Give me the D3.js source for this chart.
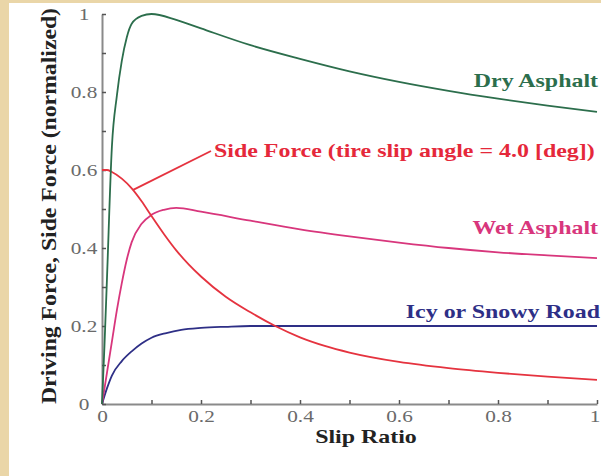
<!DOCTYPE html>
<html>
<head>
<meta charset="utf-8">
<script src="https://cdnjs.cloudflare.com/ajax/libs/d3/7.8.5/d3.min.js"></script>
<style>
    body { margin: 0; padding: 0; background: #ffffff; }
    svg { display: block; }
    text { font-family: "Liberation Serif", "Times New Roman", serif; }
</style>
</head>
<body>
<div id="chart"></div>
<script>
    // values
    var dry_slip   = [0, 0.005, 0.01, 0.02, 0.03, 0.04, 0.05, 0.06, 0.08, 0.1, 0.15, 0.2, 0.3, 0.4, 0.5, 0.6, 0.7, 0.8, 0.9, 1.0];
    var dry_force  = [0, 0.15, 0.32, 0.66, 0.79, 0.88, 0.94, 0.975, 0.995, 1.0, 0.985, 0.963, 0.92, 0.885, 0.853, 0.826, 0.803, 0.783, 0.765, 0.749];
    var wet_slip   = [0, 0.01, 0.02, 0.03, 0.04, 0.05, 0.06, 0.08, 0.1, 0.125, 0.15, 0.2, 0.3, 0.4, 0.5, 0.6, 0.7, 0.8, 0.9, 1.0];
    var wet_force  = [0, 0.08, 0.16, 0.24, 0.31, 0.37, 0.415, 0.462, 0.485, 0.498, 0.503, 0.493, 0.47, 0.448, 0.43, 0.414, 0.4, 0.389, 0.381, 0.374];
    var icy_slip   = [0, 0.01, 0.02, 0.04, 0.06, 0.08, 0.1, 0.13, 0.16, 0.2, 0.25, 0.3, 0.4, 0.5, 0.6, 0.7, 0.8, 0.9, 1.0];
    var icy_force  = [0, 0.04, 0.073, 0.11, 0.135, 0.155, 0.17, 0.182, 0.19, 0.195, 0.198, 0.2, 0.2, 0.2, 0.2, 0.2, 0.2, 0.2, 0.2];
    var side_slip  = [0, 0.01, 0.02, 0.04, 0.06, 0.08, 0.1, 0.125, 0.15, 0.175, 0.2, 0.25, 0.3, 0.35, 0.4, 0.45, 0.5, 0.6, 0.7, 0.8, 0.9, 1.0];
    var side_force = [0.6, 0.6, 0.595, 0.578, 0.553, 0.52, 0.482, 0.436, 0.394, 0.358, 0.327, 0.275, 0.235, 0.2, 0.171, 0.149, 0.132, 0.108, 0.092, 0.08, 0.07, 0.062];
    var x_ticks = [0, 0.1, 0.2, 0.3, 0.4, 0.5, 0.6, 0.7, 0.8, 0.9, 1];
    var y_ticks = [0, 0.1, 0.2, 0.3, 0.4, 0.5, 0.6, 0.7, 0.8, 0.9, 1];
    var labelled = [0, 0.2, 0.4, 0.6, 0.8, 1];
    var leader_point = [0.063, 0.549];

    var width = 601, height = 476;
    var stretch = 1.33;   // the original picture is stretched sideways

    var svg = d3.select("#chart").append("svg")
        .attr("width", width)
        .attr("height", height);

    // beige paper border on the left and top
    svg.append("rect").attr("x", 0).attr("y", 0).attr("width", width).attr("height", height).attr("fill", "#ead6a8");
    svg.append("rect").attr("x", 9).attr("y", 3).attr("width", width - 9).attr("height", height - 3).attr("fill", "#ffffff");

    var x = d3.scaleLinear().domain([0, 1]).range([102, 597]);
    var y = d3.scaleLinear().domain([0, 1]).range([404, 14]);

    function fmt(d){
        if(labelled.indexOf(d) < 0) return "";
        return d == 0 ? "0" : (d == 1 ? "1" : d3.format(".1f")(d));
    }

    var xAxis = svg.append("g")
        .attr("transform", "translate(0," + y(0) + ")")
        .call(d3.axisBottom(x).tickValues(x_ticks).tickSize(-4).tickSizeOuter(0).tickFormat(fmt));
    var yAxis = svg.append("g")
        .attr("transform", "translate(" + x(0) + ",0)")
        .call(d3.axisLeft(y).tickValues(y_ticks).tickSize(-4).tickSizeOuter(0).tickFormat(fmt));

    [xAxis, yAxis].forEach(function(a){
        a.select(".domain").attr("stroke", "#8a8a8a").attr("stroke-width", 2);
        a.selectAll(".tick line").attr("stroke", "#555").attr("stroke-width", 1.5);
        a.selectAll(".tick text")
            .attr("fill", "#6a6a6a")
            .attr("font-size", 16)
            .attr("transform", "scale(" + stretch + ",1)");
    });
    xAxis.selectAll(".tick text").attr("y", 7).attr("dy", "0.71em");
    // the last label sits right on the edge, keep it inside
    xAxis.selectAll(".tick text").filter(function(d){ return d == 1; }).attr("text-anchor", "end").attr("x", 3 / stretch);
    yAxis.selectAll(".tick text").attr("x", -18 / stretch).attr("text-anchor", "middle").attr("dy", "0.35em");

    var line = d3.line()
        .x(function(d){ return x(d[0]); })
        .y(function(d){ return y(d[1]); })
        .curve(d3.curveMonotoneX);

    function draw_curve(xs, ys, color){
        svg.append("path")
            .datum(d3.zip(xs, ys))
            .attr("d", line)
            .attr("fill", "none")
            .attr("stroke", color)
            .attr("stroke-width", 1.8);
    }

    draw_curve(icy_slip, icy_force, "#2e2f86");
    draw_curve(wet_slip, wet_force, "#d8367c");
    draw_curve(side_slip, side_force, "#e5333f");
    draw_curve(dry_slip, dry_force, "#2c6e4c");

    function label(txt, px, py, color, anchor, size){
        svg.append("text")
            .attr("transform", "translate(" + px + "," + py + ") scale(" + stretch + ",1)")
            .attr("text-anchor", anchor || "start")
            .attr("font-size", size || 18)
            .attr("font-weight", "bold")
            .attr("fill", color)
            .text(txt);
    }

    label("Dry Asphalt", 598, 87, "#2c6e4c", "end");
    label("Wet Asphalt", 598, 234, "#d8367c", "end");
    label("Icy or Snowy Road", 600, 318, "#2e2f86", "end");
    label("Side Force (tire slip angle = 4.0 [deg])", 214, 157, "#e5283a", "start");
    label("Slip Ratio", 366, 443, "#222", "middle");

    // leader from the label to the side force curve
    svg.append("line")
        .attr("x1", 211).attr("y1", 151)
        .attr("x2", x(leader_point[0])).attr("y2", y(leader_point[1]))
        .attr("stroke", "#e5333f")
        .attr("stroke-width", 1.8);

    svg.append("text")
        .attr("transform", "translate(56,206) rotate(-90)")
        .attr("text-anchor", "middle")
        .attr("font-size", 21)
        .attr("font-weight", "bold")
        .attr("fill", "#222")
        .attr("textLength", 396)
        .attr("lengthAdjust", "spacingAndGlyphs")
        .text("Driving Force, Side Force (normalized)");
</script>
</body>
</html>
